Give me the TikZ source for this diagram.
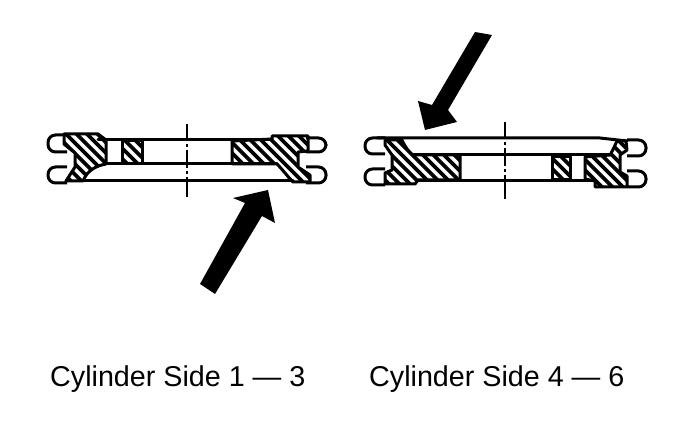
\documentclass[tikz,border=0pt]{standalone}
\usepackage{fontspec}
\setmainfont{Liberation Sans}
\tikzset{
  thick line/.style={line width=3pt,line cap=round,line join=round},
  lug/.style={line width=3pt,fill=white,rounded corners=7.5pt},
  centre/.style={line width=1.8pt,dash pattern=on 17pt off 3pt on 3pt off 3pt on 18pt off 3pt on 3pt off 3pt on 30pt},
  label/.style={font=\fontsize{28.7}{30}\selectfont,anchor=base west,inner sep=0pt,text=black},
  arrowshape/.style={fill=black,draw=none}
}
\newcommand{\hatchfill}[1]{%
  \begin{scope}
    \clip #1;
    \foreach \k in {0,10.5,...,700}{
      \draw[line width=3.6pt] (\k,110)--(\k+100,210);
    }
  \end{scope}
  \draw[thick line] #1;
}
\begin{document}
\begin{tikzpicture}[x=1pt,y=-1pt]
\useasboundingbox (0,0) rectangle (688,422);
\fill[white] (0,0) rectangle (688,422);
% ---- left ring
\draw[lug] (67,135)--(48,135)--(48,152)--(67,152);
\draw[lug] (67,167)--(48,167)--(48,183)--(67,183);
\draw[lug] (306,138)--(326,138)--(326,152)--(306,152);
\draw[lug] (306,167)--(326,167)--(326,183)--(306,183);
\hatchfill{(64,134)--(98,134)--(106,140)--(106,164) .. controls (95,166) and (87,171) .. (83,181)--(66,181)--(75,167)--(75,153)--(64,144)--cycle}
\hatchfill{(122,141)--(142,141)--(142,164)--(122,164)--cycle}
\hatchfill{(232,141)--(272,139)--(272,136)--(308,136)--(308,151)--(298,152)--(298,167)--(310,175)--(310,182)--(293,182) .. controls (287,176) and (283,170) .. (277,164)--(232,164)--cycle}
\draw[thick line] (98,139.5)--(272,139.5);
\draw[thick line] (106,164) -- (277,164);
\draw[thick line] (83,181)--(293,181);
\draw[centre] (187,124)--(187,197);
\path[arrowshape] (233,198)--(268,190)--(275,223)--(262,216)--(215,294)--(200,284)--(245,203)--cycle;
% ---- right ring
\draw[lug] (385,138)--(365,138)--(365,154)--(385,154);
\draw[lug] (385,169)--(365,169)--(365,185)--(385,185);
\draw[lug] (627,140)--(646,140)--(646,156)--(627,156);
\draw[lug] (627,171)--(646,171)--(646,187)--(627,187);
\hatchfill{(385,140)--(402,140) .. controls (405,147) and (409,152) .. (413,155)--(460,155)--(460,180)--(418,180)--(415,184)--(385,184)--(385,173)--(392,170)--(392,155)--(385,145)--cycle}
\hatchfill{(552,157)--(570,157)--(570,180)--(552,180)--cycle}
\hatchfill{(585,157)--(610,155) .. controls (613,150) and (615,145) .. (617,141)--(626,141)--(627,150)--(620,155)--(620,172)--(627,176)--(627,187)--(595,187)--(595,181)--(585,179)--cycle}
\draw[thick line] (377,138)--(600,138)--(627,141);
\draw[thick line] (413,155)--(610,155);
\draw[thick line] (418,181)--(595,181);
\draw[centre] (505,122)--(505,199);
\path[arrowshape] (475,32)--(492,35)--(448,110)--(457,122)--(425,130)--(418,101)--(432,105)--cycle;
% ---- labels
\node[label] (left label) at (50,386) {Cylinder Side 1 — 3};
\node[label] (right label) at (369,386) {Cylinder Side 4 — 6};
\end{tikzpicture}
\end{document}
